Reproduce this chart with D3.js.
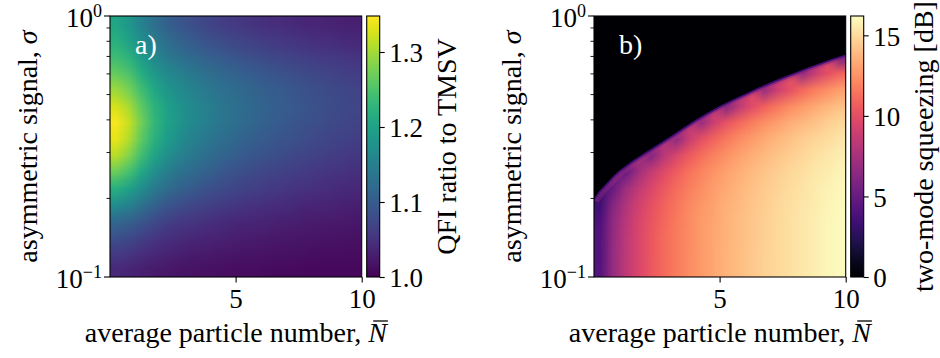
<!DOCTYPE html>
<html>
<head>
<meta charset="utf-8">
<script src="https://cdn.jsdelivr.net/npm/d3@7"></script>
<style>
  body { margin: 0; background: #fff; }
  svg { display: block; }
</style>
</head>
<body>
<svg id="fig" width="940" height="358"></svg>
<script>
// grid cell centres
const nBar = [0.25, 0.75, 1.25, 1.75, 2.25, 2.75, 3.25, 3.75, 4.25, 4.75,
              5.25, 5.75, 6.25, 6.75, 7.25, 7.75, 8.25, 8.75, 9.25, 9.75];
const sigmaRows = [0.107, 0.124, 0.143, 0.165, 0.191, 0.221, 0.255, 0.294,
                   0.340, 0.392, 0.453, 0.523, 0.604, 0.698, 0.806, 0.931];

// panel a: one inner array per N column, sigma rows bottom -> top
const qfiRatio = [
  [1.040,1.060,1.085,1.120,1.170,1.220,1.270,1.310,1.335,1.345,1.325,1.295,1.265,1.240,1.220,1.205],
  [1.036,1.055,1.078,1.110,1.155,1.201,1.247,1.284,1.308,1.319,1.303,1.277,1.249,1.223,1.201,1.184],
  [1.030,1.047,1.066,1.094,1.132,1.170,1.209,1.241,1.262,1.273,1.262,1.241,1.216,1.192,1.171,1.153],
  [1.025,1.039,1.056,1.079,1.111,1.143,1.175,1.203,1.222,1.232,1.225,1.208,1.187,1.165,1.144,1.127],
  [1.022,1.034,1.048,1.068,1.095,1.123,1.150,1.175,1.192,1.202,1.198,1.184,1.165,1.144,1.124,1.107],
  [1.019,1.030,1.043,1.061,1.084,1.109,1.133,1.155,1.171,1.181,1.180,1.168,1.151,1.130,1.110,1.093],
  [1.017,1.027,1.039,1.055,1.076,1.098,1.120,1.139,1.154,1.164,1.164,1.154,1.138,1.118,1.099,1.082],
  [1.015,1.025,1.036,1.050,1.069,1.089,1.109,1.127,1.141,1.151,1.152,1.143,1.128,1.109,1.090,1.074],
  [1.014,1.022,1.033,1.046,1.063,1.081,1.099,1.116,1.129,1.139,1.141,1.133,1.119,1.101,1.082,1.066],
  [1.013,1.021,1.030,1.042,1.058,1.075,1.091,1.107,1.120,1.129,1.131,1.125,1.112,1.094,1.076,1.060],
  [1.012,1.019,1.028,1.039,1.054,1.069,1.084,1.099,1.111,1.120,1.123,1.117,1.105,1.088,1.070,1.055],
  [1.011,1.018,1.026,1.037,1.050,1.064,1.078,1.092,1.103,1.112,1.115,1.110,1.098,1.082,1.065,1.050],
  [1.010,1.017,1.024,1.034,1.047,1.060,1.073,1.086,1.097,1.105,1.108,1.103,1.093,1.077,1.061,1.047],
  [1.009,1.016,1.023,1.032,1.044,1.056,1.069,1.081,1.091,1.099,1.103,1.098,1.088,1.073,1.057,1.044],
  [1.009,1.015,1.021,1.030,1.041,1.053,1.065,1.076,1.086,1.093,1.097,1.093,1.083,1.069,1.054,1.041],
  [1.008,1.014,1.020,1.028,1.038,1.049,1.060,1.071,1.080,1.087,1.091,1.087,1.078,1.065,1.050,1.038],
  [1.008,1.013,1.019,1.027,1.036,1.047,1.057,1.067,1.076,1.083,1.086,1.082,1.074,1.061,1.047,1.036],
  [1.007,1.012,1.018,1.025,1.034,1.044,1.054,1.063,1.071,1.078,1.081,1.078,1.070,1.058,1.045,1.033],
  [1.007,1.012,1.017,1.024,1.032,1.042,1.051,1.060,1.068,1.074,1.077,1.074,1.066,1.055,1.042,1.032],
  [1.007,1.011,1.016,1.023,1.031,1.039,1.048,1.057,1.064,1.070,1.073,1.070,1.063,1.052,1.040,1.030]
];

// panel b: same layout, 0 = above the cut-off (black)
const sqzDb = [
  [4.18,4.17,4.12,3.93,3.36,0,0,0,0,0,0,0,0,0,0,0],
  [6.80,6.79,6.74,6.58,6.14,4.99,0,0,0,0,0,0,0,0,0,0],
  [8.36,8.35,8.31,8.18,7.84,7.07,4.86,0,0,0,0,0,0,0,0,0],
  [9.49,9.48,9.45,9.34,9.07,8.47,7.12,0,0,0,0,0,0,0,0,0],
  [10.38,10.37,10.35,10.25,10.03,9.55,8.57,6.02,0,0,0,0,0,0,0,0],
  [11.11,11.10,11.08,11.00,10.82,10.43,9.67,8.05,0,0,0,0,0,0,0,0],
  [11.74,11.73,11.72,11.65,11.50,11.18,10.58,9.42,6.54,0,0,0,0,0,0,0],
  [12.29,12.28,12.27,12.22,12.09,11.83,11.35,10.47,8.70,0,0,0,0,0,0,0],
  [12.78,12.77,12.76,12.72,12.61,12.39,11.99,11.29,10.00,6.89,0,0,0,0,0,0],
  [13.21,13.20,13.20,13.16,13.06,12.87,12.54,11.95,10.93,8.90,0,0,0,0,0,0],
  [13.61,13.61,13.60,13.56,13.48,13.32,13.02,12.52,11.67,10.13,6.02,0,0,0,0,0],
  [13.97,13.97,13.96,13.93,13.85,13.71,13.44,13.00,12.28,11.02,8.41,0,0,0,0,0],
  [14.31,14.31,14.30,14.27,14.21,14.07,13.84,13.45,12.81,11.76,9.80,0,0,0,0,0],
  [14.62,14.62,14.61,14.59,14.52,14.41,14.20,13.85,13.29,12.38,10.79,6.96,0,0,0,0],
  [14.91,14.91,14.90,14.88,14.82,14.71,14.52,14.21,13.71,12.90,11.57,8.90,0,0,0,0],
  [15.18,15.18,15.17,15.15,15.10,15.00,14.83,14.54,14.08,13.37,12.22,10.11,0,0,0,0],
  [15.44,15.44,15.43,15.41,15.37,15.27,15.11,14.85,14.44,13.79,12.78,11.04,6.65,0,0,0],
  [15.68,15.68,15.67,15.65,15.61,15.53,15.38,15.13,14.75,14.17,13.26,11.78,8.72,0,0,0],
  [15.91,15.91,15.90,15.89,15.85,15.77,15.63,15.40,15.05,14.52,13.70,12.39,9.98,0,0,0],
  [16.12,16.12,16.11,16.10,16.06,15.99,15.86,15.65,15.32,14.82,14.08,12.91,10.88,5.50,0,0]
];

// cut-off line of panel b
const edgeN     = [0, 0.1, 0.2, 0.4, 0.6, 0.8, 1.0, 1.5, 2.0, 2.5, 3.0, 3.5, 4.0,
                   4.5, 5.0, 5.5, 6.0, 6.5, 7.0, 7.5, 8.0, 8.5, 9.0, 9.5, 10];
const edgeSigma = [0.198, 0.205, 0.212, 0.222, 0.233, 0.245, 0.255, 0.277, 0.298, 0.320,
                   0.343, 0.370, 0.398, 0.425, 0.452, 0.478, 0.503, 0.530, 0.556, 0.582,
                   0.608, 0.635, 0.661, 0.688, 0.712];

const nTicks = [5, 10];
const sigmaMajor = [0.1, 1];
const sigmaMinor = [0.2, 0.3, 0.4, 0.5, 0.6, 0.7, 0.8, 0.9];
const qfiTicks = [1.0, 1.1, 1.2, 1.3];
const sqzTicks = [0, 5, 10, 15];

const SERIF = '"Liberation Serif", "Times New Roman", serif';
const TICK_FS = 27;
const LABEL_FS = 28;
const plotTop = 16, plotBottom = 277, plotW = 251.7;

const svg = d3.select("#fig");
const defs = svg.append("defs");

const panels = [
  { id: "a", left: 110, grid: qfiRatio, interp: d3.interpolateViridis, range: [1.0, 1.348],
    ticks: qfiTicks, fmt: d3.format(".1f"), label: "QFI ratio to TMSV", labelX: 456, tag: "a)" },
  { id: "b", left: 594, grid: sqzDb, interp: d3.interpolateMagma, range: [0, 16.2],
    ticks: sqzTicks, fmt: d3.format("d"), label: "two-mode squeezing [dB]", labelX: 933, tag: "b)",
    cutoff: true }
];

panels.forEach(drawPanel);

function drawPanel(cfg) {
  const x = d3.scaleLinear().domain([0.02, 10]).range([cfg.left, cfg.left + plotW]);
  const y = d3.scaleLog().domain([0.1, 1]).range([plotBottom, plotTop]);
  const color = d3.scaleSequential(cfg.interp).domain(cfg.range);
  const g = svg.append("g");

  const clipId = "clip-" + cfg.id;
  defs.append("clipPath").attr("id", clipId)
    .append("rect")
    .attr("x", x.range()[0]).attr("y", plotTop)
    .attr("width", plotW).attr("height", plotBottom - plotTop);

  // value grid -> small bitmap, scaled up smoothly like imshow
  const cols = nBar.length, rows = sigmaRows.length;
  const canvas = document.createElement("canvas");
  canvas.width = cols;
  canvas.height = rows;
  const ctx = canvas.getContext("2d");
  const img = ctx.createImageData(cols, rows);
  cfg.grid.forEach((column, i) => {
    let last = column[0];
    column.forEach((v, r) => {
      if (cfg.cutoff && v === 0) v = last; else last = v;
      const c = d3.rgb(color(v));
      const p = ((rows - 1 - r) * cols + i) * 4;
      img.data[p] = c.r; img.data[p + 1] = c.g; img.data[p + 2] = c.b; img.data[p + 3] = 255;
    });
  });
  ctx.putImageData(img, 0, 0);

  const dn = (nBar[1] - nBar[0]) / 2;
  const dl = (Math.log10(sigmaRows[rows - 1]) - Math.log10(sigmaRows[0])) / (rows - 1) / 2;
  const yTop = y(Math.pow(10, Math.log10(sigmaRows[rows - 1]) + dl));
  const yBot = y(Math.pow(10, Math.log10(sigmaRows[0]) - dl));
  const plot = g.append("g").attr("clip-path", `url(#${clipId})`);
  plot.append("image")
    .attr("href", canvas.toDataURL())
    .attr("x", x(nBar[0] - dn))
    .attr("y", yTop)
    .attr("width", x(nBar[cols - 1] + dn) - x(nBar[0] - dn))
    .attr("height", yBot - yTop)
    .attr("preserveAspectRatio", "none");

  if (cfg.cutoff) {
    const edge = edgeN.map((n, i) => [n, edgeSigma[i]]);
    const line = d3.line().x(d => x(d[0])).y(d => y(d[1]));
    // purple rim just under the cut-off
    [[12, 8, 0.3], [7, 5.5, 0.55], [3.5, 3.5, 1]].forEach(([w, v, o]) =>
      plot.append("path").attr("d", line(edge))
        .attr("fill", "none").attr("stroke", color(v))
        .attr("stroke-width", w).attr("stroke-opacity", o));
    plot.append("path")
      .attr("d", d3.area().x(d => x(d[0])).y0(y(1)).y1(d => y(d[1]))(edge))
      .attr("fill", color(0));
  }

  g.append("rect")
    .attr("x", x.range()[0]).attr("y", plotTop)
    .attr("width", plotW).attr("height", plotBottom - plotTop)
    .attr("fill", "none").attr("stroke", "#000").attr("stroke-width", 1.1);

  // x axis
  const xAxis = g.append("g")
    .attr("transform", `translate(0,${plotBottom})`)
    .call(d3.axisBottom(x).tickValues(nTicks).tickSize(5.5).tickFormat(d3.format("d")));
  xAxis.select(".domain").remove();
  xAxis.attr("font-size", TICK_FS);
  xAxis.selectAll("line").attr("stroke-width", 1.1);
  xAxis.selectAll("text").attr("y", 31).attr("dy", null).attr("fill", "#000");

  // y axis (log)
  const x0 = x.range()[0];
  g.selectAll(".ymajor").data(sigmaMajor).join("line")
    .attr("x1", x0 - 6).attr("x2", x0).attr("y1", d => y(d)).attr("y2", d => y(d))
    .attr("stroke", "#000").attr("stroke-width", 1.1);
  g.selectAll(".yminor").data(sigmaMinor).join("line")
    .attr("x1", x0 - 3.5).attr("x2", x0).attr("y1", d => y(d)).attr("y2", d => y(d))
    .attr("stroke", "#000").attr("stroke-width", 0.9);
  sigmaMajor.forEach(s => {
    const t = g.append("text")
      .attr("x", x0 - 8).attr("y", y(s) + 10.5)
      .attr("text-anchor", "end").attr("font-size", TICK_FS);
    t.append("tspan").text("10");
    t.append("tspan").attr("font-size", 18).attr("dy", -10)
      .text(d3.format("d")(Math.round(Math.log10(s))));
  });

  // axis labels
  const cx = x0 + plotW / 2;
  const xl = g.append("text")
    .attr("x", cx).attr("y", 342)
    .attr("text-anchor", "middle").attr("font-size", LABEL_FS)
    .style("font-family", SERIF);
  xl.append("tspan").text("average particle number, ");
  xl.append("tspan").attr("font-style", "italic").text("N");
  const node = xl.node();
  const k = node.getNumberOfChars() - 1;
  const s0 = node.getStartPositionOfChar(k), s1 = node.getEndPositionOfChar(k);
  g.append("line")
    .attr("x1", s0.x + 5).attr("x2", s1.x + 1)
    .attr("y1", 321).attr("y2", 321)
    .attr("stroke", "#000").attr("stroke-width", 1.3);

  const yl = g.append("text")
    .attr("transform", `translate(${x0 - 73},146.5) rotate(-90)`)
    .attr("text-anchor", "middle").attr("font-size", LABEL_FS);
  yl.append("tspan").text("asymmetric signal, ");
  yl.append("tspan").attr("font-style", "italic").text("σ");

  g.append("text")
    .attr("x", x0 + 25).attr("y", 54)
    .attr("font-size", LABEL_FS).attr("fill", "#fff")
    .text(cfg.tag);

  // colour bar
  const barX = x0 + plotW + 5, barW = 13;
  const gradId = "grad-" + cfg.id;
  const grad = defs.append("linearGradient").attr("id", gradId)
    .attr("x1", 0).attr("y1", 1).attr("x2", 0).attr("y2", 0);
  d3.range(0, 1.0001, 0.05).forEach(t =>
    grad.append("stop").attr("offset", t).attr("stop-color", cfg.interp(t)));
  g.append("rect")
    .attr("x", barX).attr("y", plotTop).attr("width", barW).attr("height", plotBottom - plotTop)
    .attr("fill", `url(#${gradId})`).attr("stroke", "#000").attr("stroke-width", 1.1);

  const cScale = d3.scaleLinear().domain(cfg.range).range([plotBottom, plotTop]);
  const cAxis = g.append("g")
    .attr("transform", `translate(${barX + barW},0)`)
    .call(d3.axisRight(cScale).tickValues(cfg.ticks).tickSize(5).tickPadding(4.5).tickFormat(cfg.fmt));
  cAxis.select(".domain").remove();
  cAxis.attr("font-size", TICK_FS);
  cAxis.selectAll("line").attr("stroke-width", 1.1);
  cAxis.selectAll("text").attr("dy", "0.36em").attr("fill", "#000");

  g.append("text")
    .attr("transform", `translate(${cfg.labelX},146.5) rotate(-90)`)
    .attr("text-anchor", "middle").attr("font-size", LABEL_FS)
    .text(cfg.label);

  g.selectAll("text").style("font-family", SERIF);
}
</script>
</body>
</html>
